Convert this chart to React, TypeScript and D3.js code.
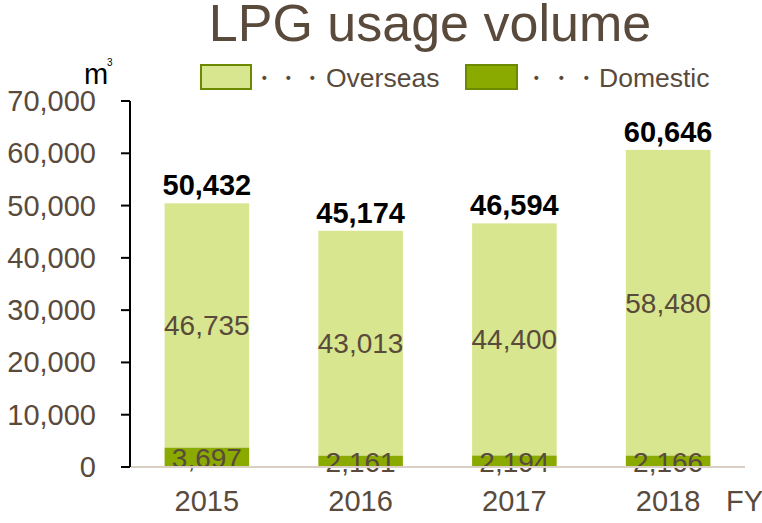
import React from "react";
import * as d3 from "d3";

const categories = ["2015", "2016", "2017", "2018"];
const domestic = [3697, 2161, 2194, 2166];
const overseas = [46735, 43013, 44400, 58480];
const totals = [50432, 45174, 46594, 60646];
const yTicks = [0, 10000, 20000, 30000, 40000, 50000, 60000, 70000];

const W = 762, H = 523;
const FONT = "'Liberation Sans', Arial, sans-serif";
const TXT = "#594a3c";
const C_OVER = "#d7e68f";
const C_DOM = "#8aaa00";

export default function App() {
  const x = d3.scaleBand<string>().domain(categories).range([130, 745]).paddingInner(0.45).paddingOuter(0.225);
  const y = d3.scaleLinear().domain([0, 70000]).range([467, 101]);
  const fmt = d3.format(",");
  const bw = x.bandwidth();
  return (
    <svg width={W} height={H} style={{ position: "absolute", left: 0, top: 0, fontFamily: FONT }}>
      <text x={430} y={41} textAnchor="middle" fontSize={52} fill={TXT}>LPG usage volume</text>
      <text x={84} y={84} fontSize={29} fill="#000">m</text>
      <text x={107} y={66} fontSize={10} fill="#000">3</text>
      {/* legend */}
      <rect x={201} y={65} width={50} height={24} fill={C_OVER} stroke="#6b8a00" strokeWidth={2} />
      <text x={251} y={87} fontSize={26} fill={TXT} letterSpacing={-2}>{"・・・"}</text>
      <text x={326} y={87} fontSize={26.5} fill={TXT}>Overseas</text>
      <rect x={466} y={65} width={51} height={24} fill={C_DOM} stroke="#6b8a00" strokeWidth={2} />
      <text x={523} y={87} fontSize={26} fill={TXT} letterSpacing={-1}>{"・・・"}</text>
      <text x={599} y={87} fontSize={26.5} fill={TXT}>Domestic</text>
      {/* axis */}
      <line x1={130} x2={130} y1={y(70000)} y2={y(0)} stroke="#000" strokeWidth={2} />
      {yTicks.map((t) => (
        <g key={t}>
          <line x1={121} x2={130} y1={y(t)} y2={y(t)} stroke="#000" strokeWidth={2} />
          <text x={96} y={y(t) + 10} textAnchor="end" fontSize={29} fill={TXT}>{fmt(t)}</text>
        </g>
      ))}
      {categories.map((c, i) => {
        const x0 = x(c)!;
        const cx = x0 + bw / 2;
        return (
          <g key={c}>
            <rect x={x0} y={y(domestic[i] + overseas[i])} width={bw} height={y(domestic[i]) - y(domestic[i] + overseas[i])} fill={C_OVER} />
            <rect x={x0} y={y(domestic[i])} width={bw} height={y(0) - y(domestic[i])} fill={C_DOM} />
            <text x={cx} y={(y(domestic[i]) + y(domestic[i] + overseas[i])) / 2 + 10} textAnchor="middle" fontSize={28} fill={TXT}>{fmt(overseas[i])}</text>
            <text x={cx} y={y(domestic[i] / 2) + 11} textAnchor="middle" fontSize={28} fill={TXT}>{fmt(domestic[i])}</text>
            <text x={cx} y={y(totals[i]) - 8} textAnchor="middle" fontSize={29} fontWeight="bold" fill="#000">{fmt(totals[i])}</text>
            <text x={cx} y={511} textAnchor="middle" fontSize={29} fill={TXT}>{c}</text>
          </g>
        );
      })}
      <line x1={131} x2={745} y1={y(0)} y2={y(0)} stroke="#d9cfc4" strokeWidth={2} />
      <text x={726} y={511} fontSize={29} fill={TXT}>FY</text>
    </svg>
  );
}
